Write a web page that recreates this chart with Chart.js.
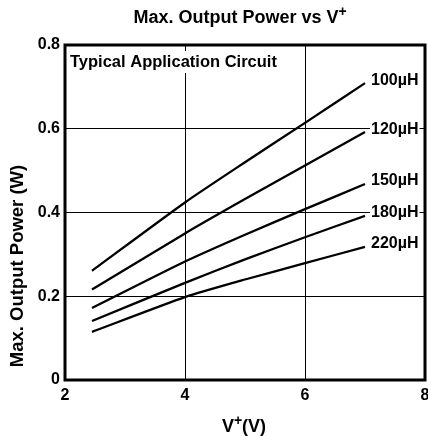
<!DOCTYPE html>
<html>
<head>
<meta charset="utf-8">
<script src="https://cdn.jsdelivr.net/npm/chart.js@4/dist/chart.umd.min.js"></script>
<style>
  body { margin: 0; background: #fff; }
</style>
</head>
<body>
<canvas id="myChart" width="428" height="436"></canvas>
<script>
var voltage = [2.45, 4, 5, 6, 7];
var p100 = [0.261, 0.424, 0.520, 0.614, 0.709];
var p120 = [0.216, 0.350, 0.432, 0.512, 0.592];
var p150 = [0.172, 0.283, 0.347, 0.408, 0.468];
var p180 = [0.141, 0.232, 0.288, 0.341, 0.392];
var p220 = [0.115, 0.198, 0.240, 0.279, 0.318];
var inductors = ['100\u00B5H', '120\u00B5H', '150\u00B5H', '180\u00B5H', '220\u00B5H'];
var xTicks = [2, 4, 6, 8];
var yTicks = [0, 0.2, 0.4, 0.6, 0.8];

var FONT = "'Liberation Sans', Arial, sans-serif";

function toPoints(vals) {
  var pts = [];
  for (var i = 0; i < vals.length; i++) {
    pts.push({x: voltage[i], y: vals[i]});
  }
  return pts;
}

var allSeries = [p100, p120, p150, p180, p220];
var datasets = [];
for (var i = 0; i < allSeries.length; i++) {
  datasets.push({
    label: inductors[i],
    data: toPoints(allSeries[i]),
    borderColor: '#000',
    borderWidth: 2.3,
    pointRadius: 0,
    tension: 0.2,
    fill: false
  });
}

// text with a raised "+" after the V
function drawSup(c, parts, cx, cy, size) {
  var big = 'bold ' + size + 'px ' + FONT;
  var small = 'bold ' + Math.round(size * 0.8) + 'px ' + FONT;
  c.font = big;
  var w0 = c.measureText(parts[0]).width;
  var w2 = c.measureText(parts[2]).width;
  c.font = small;
  var w1 = c.measureText(parts[1]).width;
  var x = cx - (w0 + w1 + w2) / 2;
  c.textAlign = 'left';
  c.textBaseline = 'middle';
  c.font = big;
  c.fillText(parts[0], x, cy);
  c.font = small;
  c.fillText(parts[1], x + w0, cy - size * 0.35);
  c.font = big;
  c.fillText(parts[2], x + w0 + w1, cy);
}

var extras = {
  id: 'extras',
  afterDatasetsDraw: function(chart) {
    var c = chart.ctx, a = chart.chartArea;
    var xs = chart.scales.x, ys = chart.scales.y;
    c.save();
    c.font = 'bold 16px ' + FONT;
    c.textBaseline = 'middle';
    c.textAlign = 'left';
    for (var i = 0; i < allSeries.length; i++) {
      var last = allSeries[i][allSeries[i].length - 1];
      var px = xs.getPixelForValue(7.1);
      var py = ys.getPixelForValue(last) - 3;
      var w = c.measureText(inductors[i]).width;
      c.fillStyle = '#fff';
      c.fillRect(px - 1, py - 9, w + 2, 18);
      c.fillStyle = '#000';
      c.fillText(inductors[i], px, py);
    }
    c.font = 'bold 16.5px ' + FONT;
    var note = 'Typical Application Circuit';
    var nw = c.measureText(note).width;
    c.fillStyle = '#fff';
    c.fillRect(a.left + 3, a.top + 6, nw + 4, 22);
    c.fillStyle = '#000';
    c.fillText(note, a.left + 5, a.top + 17);
    c.lineWidth = 3;
    c.strokeStyle = '#000';
    c.strokeRect(a.left, a.top, a.right - a.left, a.bottom - a.top);

    // titles
    drawSup(c, ['Max. Output Power vs V', '+', ''], 240, 18, 18);
    drawSup(c, ['V', '+', '(V)'], 244, 427, 18);
    c.save();
    c.translate(18, 266);
    c.rotate(-Math.PI / 2);
    c.font = 'bold 18.5px ' + FONT;
    c.textAlign = 'center';
    c.textBaseline = 'middle';
    c.fillText('Max. Output Power (W)', 0, 0);
    c.restore();
    c.restore();
  }
};

var ctx = document.getElementById('myChart');
var myChart = new Chart(ctx, {
  type: 'line',
  data: { datasets: datasets },
  plugins: [extras],
  options: {
    responsive: false,
    animation: false,
    layout: { padding: { top: 45, right: 3 } },
    plugins: {
      legend: { display: false },
      tooltip: { enabled: false },
      title: { display: false }
    },
    scales: {
      x: {
        type: 'linear',
        min: 2,
        max: 8,
        afterBuildTicks: function(s) { s.ticks = xTicks.map(function(v) { return {value: v}; }); },
        afterFit: function(s) { s.height = 56; s.paddingRight = 3; },
        grid: { color: '#000', lineWidth: 1, drawTicks: false },
        border: { display: false },
        ticks: { color: '#000', padding: 6, maxRotation: 0, font: { family: FONT, size: 16, weight: 'bold' } }
      },
      y: {
        min: 0,
        max: 0.8,
        afterBuildTicks: function(s) { s.ticks = yTicks.map(function(v) { return {value: v}; }); },
        afterFit: function(s) { s.width = 65; s.paddingTop = 0; },
        grid: { color: '#000', lineWidth: 1, drawTicks: false },
        border: { display: false },
        ticks: { color: '#000', padding: 5, font: { family: FONT, size: 16, weight: 'bold' } }
      }
    }
  }
});
</script>
</body>
</html>
